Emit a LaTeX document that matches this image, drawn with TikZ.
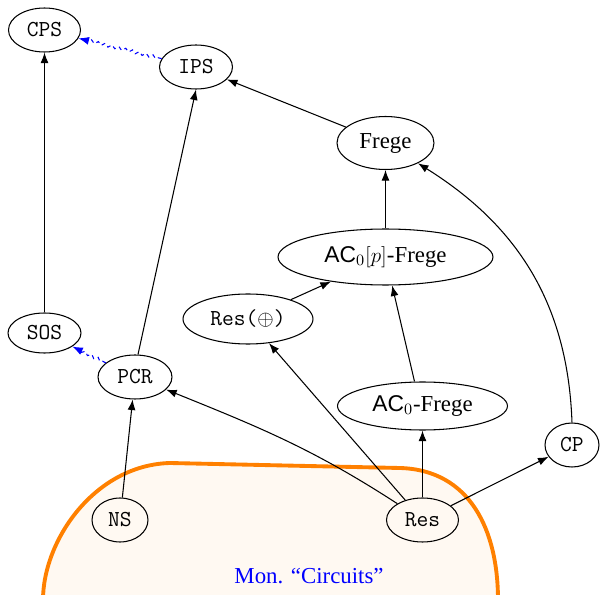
\documentclass[tikz,border=0pt]{standalone}
\usepackage{fontspec}
\setmainfont{Liberation Serif}
\setsansfont{Liberation Sans}
\usetikzlibrary{arrows.meta,decorations.pathmorphing,shapes.geometric}
\begin{document}
\begin{tikzpicture}[x=0.02cm,y=-0.02cm,
  sys/.style={draw,ellipse,line width=0.6pt,inner sep=0pt},
  mono/.style={font=\fontsize{13}{15}\selectfont\ttfamily},
  serif/.style={font=\fontsize{13}{15}\selectfont},
  imp/.style={line width=0.6pt,-{Latex[length=6pt,width=4.5pt]}},
  weak/.style={blue,line width=0.6pt,-{Latex[length=6pt,width=4.5pt]},
    decorate,decoration={snake,amplitude=0.9pt,segment length=4pt,pre length=2pt,post length=4pt},
    dash pattern=on 2.2pt off 2.2pt},
  region/.style={draw=orange,line width=2.2pt,fill=orange!5}]
\useasboundingbox (0,0) rectangle (600,595);

% monotone circuits region
\path[region] (43,600) .. controls (43,540) and (95,465) .. (170,463)
  -- (400,468) .. controls (470,470) and (498,530) .. (498,600) -- cycle;
\node[blue,serif] (mon) at (309,576) {Mon. “Circuits”};

% proof systems
\node[sys,mono,minimum width=1.44cm,minimum height=0.88cm] (cps) at (44.5,30) {CPS};
\node[sys,mono,minimum width=1.46cm,minimum height=0.88cm] (ips) at (196,67) {IPS};
\node[sys,serif,minimum width=1.94cm,minimum height=1.06cm] (frege) at (385.5,143) {Frege};
\node[sys,serif,minimum width=4.3cm,minimum height=1.12cm] (acp) at (385.5,257) {\textsf{AC}$_0[p]$-Frege};
\node[sys,mono,minimum width=2.6cm,minimum height=1.0cm] (resx) at (248,319) {Res($\oplus$)};
\node[sys,mono,minimum width=1.46cm,minimum height=0.8cm] (sos) at (44.5,333) {SOS};
\node[sys,mono,minimum width=1.48cm,minimum height=0.88cm] (pcr) at (135,377) {PCR};
\node[sys,serif,minimum width=3.4cm,minimum height=0.96cm] (ac) at (422.5,406) {\textsf{AC}$_0$-Frege};
\node[sys,mono,minimum width=1.08cm,minimum height=0.88cm] (cp) at (572,445) {CP};
\node[sys,mono,minimum width=1.12cm,minimum height=0.88cm] (ns) at (120,520) {NS};
\node[sys,mono,minimum width=1.44cm,minimum height=0.88cm] (res) at (422.5,520) {Res};

% simulations
\coordinate (pcrtop) at ([xshift=0.06cm]pcr.north);
\coordinate (actop) at ([xshift=-0.16cm]ac.north);
\draw[imp] (sos) -- (cps);
\draw[imp] (pcrtop) -- (ips.south);
\draw[imp] (frege) -- (ips);
\draw[imp] (acp) -- (frege);
\draw[imp] (resx) -- (acp);
\draw[imp] (actop) -- (acp);
\draw[imp] (cp.north) to[out=92,in=-32] (frege);
\draw[imp] (ns) -- (pcr);
\draw[imp] (res) to[out=147,in=-22] (pcr);
\draw[imp] (res) -- (resx);
\draw[imp] (res) -- (ac);
\draw[imp] (res) -- (cp);
\draw[weak] (ips) -- (cps);
\draw[weak] (pcr) -- (sos);
\end{tikzpicture}
\end{document}
